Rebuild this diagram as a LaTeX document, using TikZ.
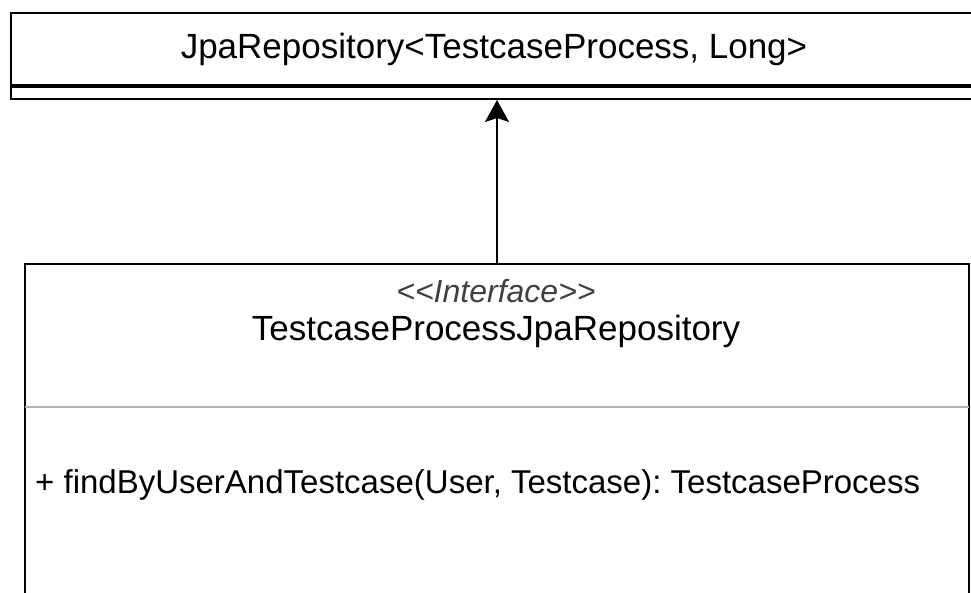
\documentclass[tikz,border=0pt]{standalone}
\usepackage{fontspec}
\setmainfont{Liberation Sans}
\usetikzlibrary{arrows.meta}
\usetikzlibrary{positioning}
\frenchspacing
\tikzset{
	umlbox/.style={draw, line width=2pt, rectangle, inner sep=0pt},
	umlsep/.style={draw=black!30, line width=2pt},
	titletext/.style={font=\fontsize{35}{40}\selectfont, anchor=base, inner sep=0pt},
	stereotext/.style={font=\fontsize{32}{36}\selectfont\itshape, text=black!75, anchor=base, inner sep=0pt},
	membertext/.style={font=\fontsize{33}{38}\selectfont, anchor=base west, inner sep=0pt},
	realize/.style={-{Stealth[length=22pt, width=24pt, inset=4pt]}, line width=2pt}
}

\begin{document}
\begin{tikzpicture}[x=1pt, y=-1pt]
	\useasboundingbox (0,0) rectangle (971,593);
	\clip (0,0) rectangle (971,593);
	% parent type
	\node[umlbox, anchor=north west, minimum width=975pt, minimum height=72pt] (repo) at (10,12) {};
	\node[umlbox, anchor=north, minimum width=975pt, minimum height=12pt] (repoattr) at (repo.south) {};
	\node[titletext] (reponame) at (494,59) {JpaRepository<TestcaseProcess, Long>};
	% interface
	\node[umlbox, anchor=north west, minimum width=944pt, minimum height=400pt] (iface) at (24,263) {};
	\draw[umlsep] ([xshift=1pt, yshift=-144pt]iface.north west) -- ([xshift=-1pt, yshift=-144pt]iface.north east);
	\node[stereotext] (ifacestereo) at (496,303) {<\kern0pt<Interface>\kern0pt>};
	\node[titletext] (ifacename) at (496,341) {TestcaseProcessJpaRepository};
	\node[membertext] (ifaceop) at (35,493) {+ findByUserAndTestcase(User, Testcase): TestcaseProcess};
	% realization
	\draw[realize] (iface.north) -- (iface.north |- repoattr.south);
\end{tikzpicture}
\end{document}
